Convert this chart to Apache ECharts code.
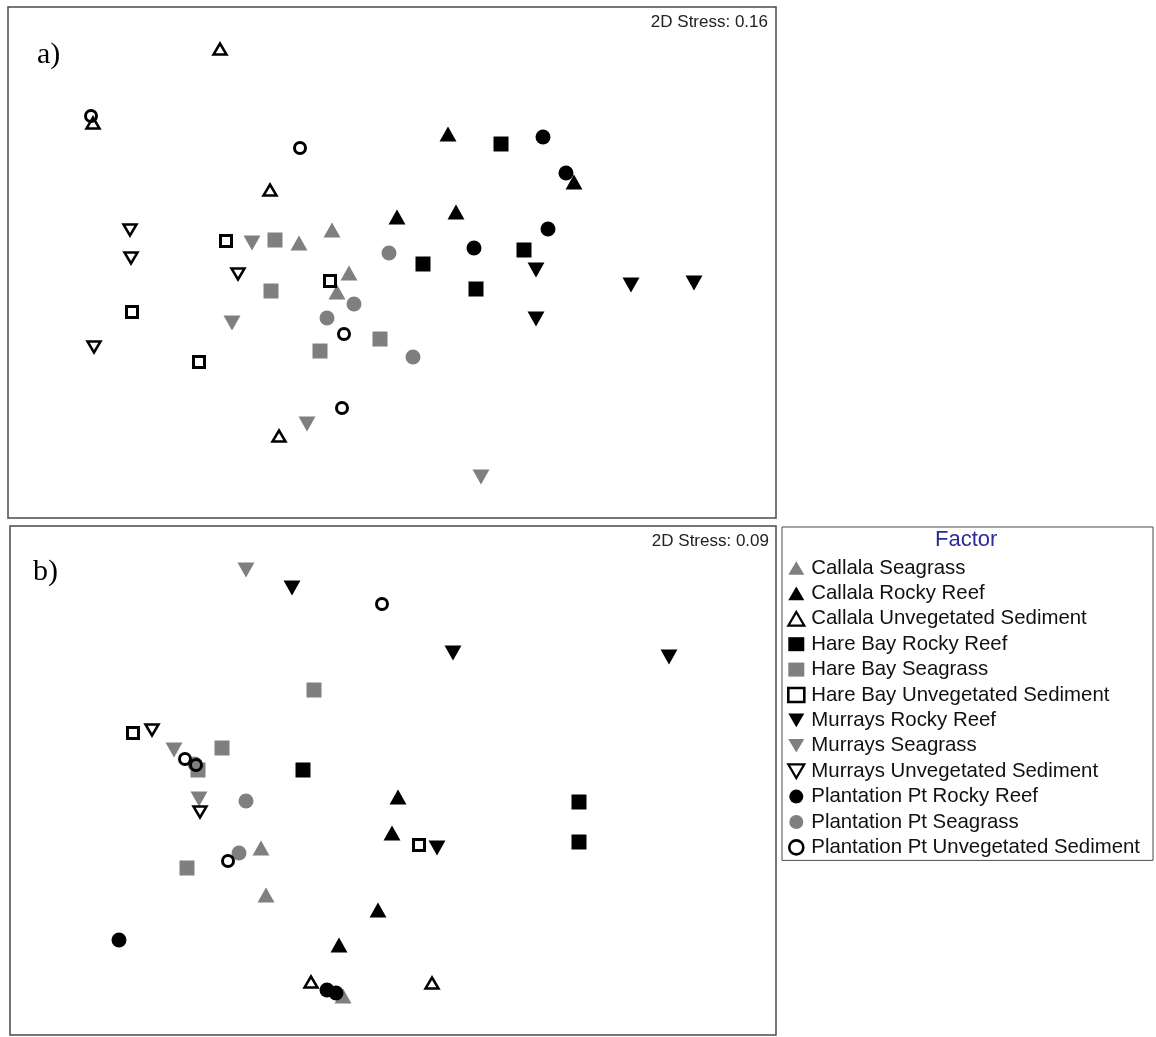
<!DOCTYPE html>
<html>
<head>
<meta charset="utf-8">
<title>nMDS ordination of fish assemblages</title>
<script src="https://cdn.jsdelivr.net/npm/echarts@6/dist/echarts.min.js"></script>
<style>
  html, body { margin: 0; padding: 0; background: #fff; }
  #chart { width: 1156px; height: 1037px; }
</style>
</head>
<body>
<div id="chart"></div>
<script>
// Factor levels (legend order)
const factors = [
  'Callala Seagrass',
  'Callala Rocky Reef',
  'Callala Unvegetated Sediment',
  'Hare Bay Rocky Reef',
  'Hare Bay Seagrass',
  'Hare Bay Unvegetated Sediment',
  'Murrays Rocky Reef',
  'Murrays Seagrass',
  'Murrays Unvegetated Sediment',
  'Plantation Pt Rocky Reef',
  'Plantation Pt Seagrass',
  'Plantation Pt Unvegetated Sediment'
];

// Panel a) nMDS coordinates [MDS1, MDS2], stress 0.16
const aCallalaSeagrass      = [[-0.93, 0.19], [-0.60, 0.32], [-0.43, -0.11], [-0.55, -0.30]];
const aCallalaReef          = [[0.56, 1.28], [1.82, 0.80], [0.05, 0.45], [0.64, 0.50]];
const aCallalaSediment      = [[-1.72, 2.13], [-2.99, 1.39], [-1.22, 0.72], [-1.13, -1.74]];
const aHareBayReef          = [[1.09, 1.18], [1.32, 0.12], [0.31, -0.02], [0.84, -0.27]];
const aHareBaySeagrass      = [[-1.17, 0.22], [-1.21, -0.29], [-0.12, -0.77], [-0.72, -0.89]];
const aHareBaySediment      = [[-1.66, 0.21], [-0.62, -0.19], [-2.60, -0.50], [-1.93, -1.00]];
const aMurraysReef          = [[1.44, -0.08], [2.39, -0.23], [3.02, -0.21], [1.44, -0.57]];
const aMurraysSeagrass      = [[-1.40, 0.19], [-1.60, -0.61], [-0.85, -1.62], [0.89, -2.15]];
const aMurraysSediment      = [[-2.62, 0.32], [-2.61, 0.04], [-1.54, -0.12], [-2.98, -0.85]];
const aPlantationReef       = [[1.51, 1.25], [1.74, 0.89], [1.56, 0.33], [0.82, 0.14]];
const aPlantationSeagrass   = [[-0.03, 0.09], [-0.38, -0.42], [-0.65, -0.56], [0.21, -0.95]];
const aPlantationSediment   = [[-3.01, 1.46], [-0.92, 1.14], [-0.48, -0.72], [-0.50, -1.46]];

// Panel b) nMDS coordinates [MDS1, MDS2], stress 0.09
const bCallalaSeagrass      = [[-1.31, -0.68], [-1.26, -1.15], [-0.49, -2.16]];
const bCallalaReef          = [[0.06, -0.17], [0.00, -0.53], [-0.14, -1.30], [-0.53, -1.65]];
const bCallalaSediment      = [[-0.81, -2.02], [0.40, -2.03]];
const bHareBayReef          = [[-0.89, 0.10], [1.87, -0.22], [1.87, -0.62]];
const bHareBaySeagrass      = [[-0.78, 0.90], [-1.70, 0.32], [-1.94, 0.10], [-2.05, -0.88]];
const bHareBaySediment      = [[-2.59, 0.47], [0.27, -0.65]];
const bMurraysReef          = [[-1.00, 1.92], [0.61, 1.27], [2.77, 1.23], [0.45, -0.68]];
const bMurraysSeagrass      = [[-1.46, 2.10], [-2.18, 0.30], [-1.93, -0.19]];
const bMurraysSediment      = [[-2.40, 0.50], [-1.92, -0.32]];
const bPlantationReef       = [[-2.73, -1.60], [-0.65, -2.10], [-0.56, -2.13]];
const bPlantationSeagrass   = [[-1.97, 0.16], [-1.46, -0.21], [-1.53, -0.73]];
const bPlantationSediment   = [[-0.10, 1.76], [-2.07, 0.21], [-1.96, 0.15], [-1.64, -0.81]];

const panelA = [aCallalaSeagrass, aCallalaReef, aCallalaSediment, aHareBayReef, aHareBaySeagrass,
  aHareBaySediment, aMurraysReef, aMurraysSeagrass, aMurraysSediment, aPlantationReef,
  aPlantationSeagrass, aPlantationSediment];
const panelB = [bCallalaSeagrass, bCallalaReef, bCallalaSediment, bHareBayReef, bHareBaySeagrass,
  bHareBaySediment, bMurraysReef, bMurraysSeagrass, bMurraysSediment, bPlantationReef,
  bPlantationSeagrass, bPlantationSediment];

const stressA = '2D Stress: 0.16';
const stressB = '2D Stress: 0.09';

// Marker styles
const GREY = '#7f7f7f';
const BLACK = '#000000';
const UP = 'path://M10,0L20,17L0,17Z';
const DOWN = 'path://M0,0L20,0L10,17Z';

function markerFor(i) {
  const shape = ['up', 'square', 'down', 'circle'][Math.floor(i / 3)];
  const kinds = ['grey','black','open','black','grey','open','black','grey','open','black','grey','open'];
  const kind = kinds[i];
  const open = kind === 'open';
  const tri = shape === 'up' || shape === 'down';
  let symbol, size;
  if (tri) {
    symbol = shape === 'up' ? UP : DOWN;
    size = open ? [13, 11] : [17, 15];
  } else if (shape === 'square') {
    symbol = 'rect';
    size = open ? 11 : 15;
  } else {
    symbol = 'circle';
    size = open ? 11 : 15;
  }
  const itemStyle = open
    ? { color: 'rgba(255,255,255,0)', borderColor: BLACK, borderWidth: tri ? 2.5 : 3, opacity: 1 }
    : { color: kind === 'grey' ? GREY : BLACK, borderWidth: 0, opacity: 1 };
  return { symbol, size, itemStyle, open, tri };
}

const series = [];
[panelA, panelB].forEach((panel, p) => {
  panel.forEach((pts, i) => {
    const m = markerFor(i);
    series.push({
      type: 'scatter',
      name: factors[i],
      xAxisIndex: p,
      yAxisIndex: p,
      data: pts,
      symbol: m.symbol,
      symbolSize: m.size,
      symbolKeepAspect: false,
      itemStyle: m.itemStyle,
      emphasis: { disabled: true },
      silent: true,
      z: 2 + i
    });
  });
});

const chart = echarts.init(document.getElementById('chart'), null, { renderer: 'canvas' });

chart.setOption({
  animation: false,
  backgroundColor: '#ffffff',
  grid: [
    { left: 8, top: 7, width: 768, height: 511, show: true, borderColor: '#4a4a4a', borderWidth: 1.5, backgroundColor: '#fff' },
    { left: 10, top: 526, width: 766, height: 509, show: true, borderColor: '#4a4a4a', borderWidth: 1.5, backgroundColor: '#fff' }
  ],
  xAxis: [
    { type: 'value', gridIndex: 0, min: -3.84, max: 3.84, show: false },
    { type: 'value', gridIndex: 1, min: -3.82, max: 3.84, show: false }
  ],
  yAxis: [
    { type: 'value', gridIndex: 0, min: -2.56, max: 2.55, show: false },
    { type: 'value', gridIndex: 1, min: -2.55, max: 2.54, show: false }
  ],
  legend: {
    data: factors.map((f, i) => {
      const m = markerFor(i);
      return {
        name: f,
        icon: m.symbol,
        itemStyle: m.open
          ? { color: 'rgba(255,255,255,0)', borderColor: BLACK, borderWidth: m.tri ? 2.2 : 2.6, opacity: 1 }
          : { color: m.itemStyle.color, borderWidth: 0, opacity: 1 }
      };
    }),
    orient: 'vertical',
    left: 782,
    top: 527,
    padding: [31, 13, 3, 5],
    itemGap: 5.4,
    itemWidth: 16,
    itemHeight: 14,
    borderColor: '#4a4a4a',
    borderWidth: 1,
    backgroundColor: '#fff',
    selectedMode: false,
    textStyle: { fontFamily: 'Liberation Sans, Arial, sans-serif', fontSize: 20.4, color: '#111', lineHeight: 20, padding: [0, 0, 0, 2] }
  },
  graphic: [
    { type: 'text', left: 37, top: 40, z: 50,
      style: { text: 'a)', font: '30px "Liberation Serif", "Times New Roman", serif', fill: '#000' } },
    { type: 'text', left: 33, top: 557, z: 50,
      style: { text: 'b)', font: '30px "Liberation Serif", "Times New Roman", serif', fill: '#000' } },
    { type: 'text', right: 1156 - 768, top: 14, z: 50,
      style: { text: stressA, font: '17px "Liberation Sans", Arial, sans-serif', fill: '#222' } },
    { type: 'text', right: 1156 - 769, top: 533, z: 50,
      style: { text: stressB, font: '17px "Liberation Sans", Arial, sans-serif', fill: '#222' } },
    { type: 'text', left: 935, top: 529, z: 50,
      style: { text: 'Factor', font: '22px "Liberation Sans", Arial, sans-serif', fill: '#2b2b99' } }
  ],
  series
});
</script>
</body>
</html>
